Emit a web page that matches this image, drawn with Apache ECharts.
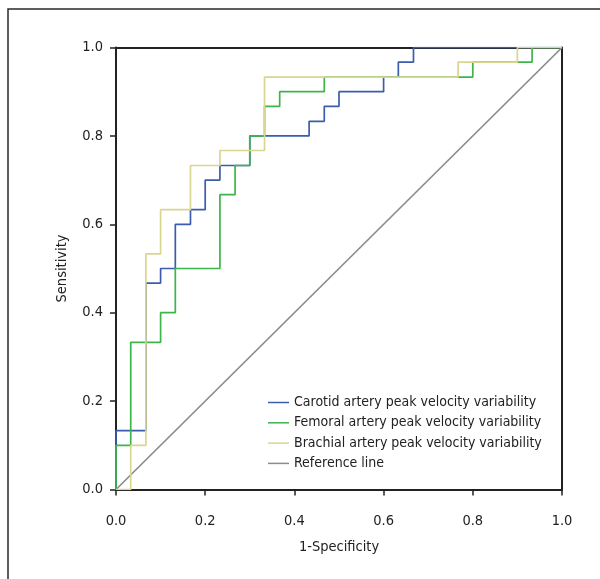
<!DOCTYPE html>
<html>
<head>
<meta charset="utf-8">
<script src="https://cdn.jsdelivr.net/npm/echarts@6/dist/echarts.min.js"></script>
<style>
html,body{margin:0;padding:0;background:#fff;}
#chart{width:600px;height:579px;}
</style>
</head>
<body>
<div id="chart"></div>
<script>
// ROC curve vertices (1-Specificity, Sensitivity)
var carotidX = [0, 0, 0.067, 0.067, 0.1, 0.1, 0.133, 0.133, 0.167, 0.167, 0.2, 0.2, 0.233, 0.233, 0.3, 0.3, 0.433, 0.433, 0.467, 0.467, 0.5, 0.5, 0.6, 0.6, 0.633, 0.633, 0.667, 0.667, 1];
var carotidY = [0, 0.133, 0.133, 0.467, 0.467, 0.5, 0.5, 0.6, 0.6, 0.633, 0.633, 0.7, 0.7, 0.733, 0.733, 0.8, 0.8, 0.833, 0.833, 0.867, 0.867, 0.9, 0.9, 0.933, 0.933, 0.967, 0.967, 1, 1];

var femoralX = [0, 0, 0.033, 0.033, 0.1, 0.1, 0.133, 0.133, 0.233, 0.233, 0.267, 0.267, 0.3, 0.3, 0.333, 0.333, 0.367, 0.367, 0.467, 0.467, 0.8, 0.8, 0.933, 0.933, 1];
var femoralY = [0, 0.1, 0.1, 0.333, 0.333, 0.4, 0.4, 0.5, 0.5, 0.667, 0.667, 0.733, 0.733, 0.8, 0.8, 0.867, 0.867, 0.9, 0.9, 0.933, 0.933, 0.967, 0.967, 1, 1];

var brachialX = [0, 0.033, 0.033, 0.067, 0.067, 0.1, 0.1, 0.167, 0.167, 0.233, 0.233, 0.333, 0.333, 0.767, 0.767, 0.9, 0.9, 1];
var brachialY = [0, 0, 0.1, 0.1, 0.533, 0.533, 0.633, 0.633, 0.733, 0.733, 0.767, 0.767, 0.933, 0.933, 0.967, 0.967, 1, 1];

var referenceX = [0, 1];
var referenceY = [0, 1];

var seriesNames = [
  'Carotid artery peak velocity variability',
  'Femoral artery peak velocity variability',
  'Brachial artery peak velocity variability',
  'Reference line'
];
var xTitle = '1-Specificity';
var yTitle = 'Sensitivity';

function zip(xs, ys) {
  var out = [];
  for (var i = 0; i < xs.length; i++) out.push([xs[i], ys[i]]);
  return out;
}

var FONT = "'DejaVu Sans Condensed', 'Noto Sans', sans-serif";
var colors = ['#3a5dae', '#3db54a', '#d9d68e', '#8c8c8c'];

var chart = echarts.init(document.getElementById('chart'), null, {renderer: 'canvas'});

function lineSeries(name, data, color, z) {
  return {
    name: name, type: 'line', data: data, symbol: 'none', z: z,
    lineStyle: {color: color, width: 1.7}, itemStyle: {color: color},
    animation: false, silent: true
  };
}

var axisLabelStyle = {color: '#222', fontSize: 14.5, fontFamily: FONT};

chart.setOption({
  animation: false,
  grid: {left: 116, right: 38, top: 47.5, bottom: 89.5},
  graphic: [{
    type: 'rect', shape: {x: 8, y: 9, width: 800, height: 800},
    style: {fill: 'none', stroke: '#2a2a2a', lineWidth: 1.5}, silent: true, z: 0
  }],
  xAxis: [{
    type: 'value', min: 0, max: 1, interval: 0.2, position: 'bottom',
    name: xTitle, nameLocation: 'middle', nameGap: 50,
    nameTextStyle: {color: '#222', fontSize: 14.5, fontFamily: FONT},
    axisLine: {show: true, onZero: false, lineStyle: {color: '#222', width: 2}},
    axisTick: {show: true, length: 6, lineStyle: {color: '#222', width: 1.5}},
    axisLabel: Object.assign({margin: 24, formatter: function (v) { return v.toFixed(1); }}, axisLabelStyle),
    splitLine: {show: false}
  }, {
    type: 'value', min: 0, max: 1, position: 'top',
    axisLine: {show: true, onZero: false, lineStyle: {color: '#222', width: 2}},
    axisTick: {show: false}, axisLabel: {show: false}, splitLine: {show: false}
  }],
  yAxis: [{
    type: 'value', min: 0, max: 1, interval: 0.2, position: 'left',
    name: yTitle, nameLocation: 'middle', nameGap: 46, nameRotate: 90,
    nameTextStyle: {color: '#222', fontSize: 14.5, fontFamily: FONT},
    axisLine: {show: true, onZero: false, lineStyle: {color: '#222', width: 2}},
    axisTick: {show: true, length: 6, lineStyle: {color: '#222', width: 1.5}},
    axisLabel: Object.assign({margin: 13, formatter: function (v) { return v.toFixed(1); }}, axisLabelStyle),
    splitLine: {show: false}
  }, {
    type: 'value', min: 0, max: 1, position: 'right',
    axisLine: {show: true, onZero: false, lineStyle: {color: '#222', width: 2}},
    axisTick: {show: false}, axisLabel: {show: false}, splitLine: {show: false}
  }],
  legend: {
    orient: 'vertical', left: 263, top: 390,
    data: seriesNames,
    icon: 'rect', itemWidth: 21, itemHeight: 1.5, itemGap: 5.3,
    textStyle: {color: '#222', fontSize: 14, fontFamily: FONT, lineHeight: 15, padding: 0},
    selectedMode: false
  },
  series: [
    lineSeries(seriesNames[3], zip(referenceX, referenceY), colors[3], 1),
    lineSeries(seriesNames[0], zip(carotidX, carotidY), colors[0], 2),
    lineSeries(seriesNames[1], zip(femoralX, femoralY), colors[1], 3),
    lineSeries(seriesNames[2], zip(brachialX, brachialY), colors[2], 4)
  ]
});
</script>
</body>
</html>
